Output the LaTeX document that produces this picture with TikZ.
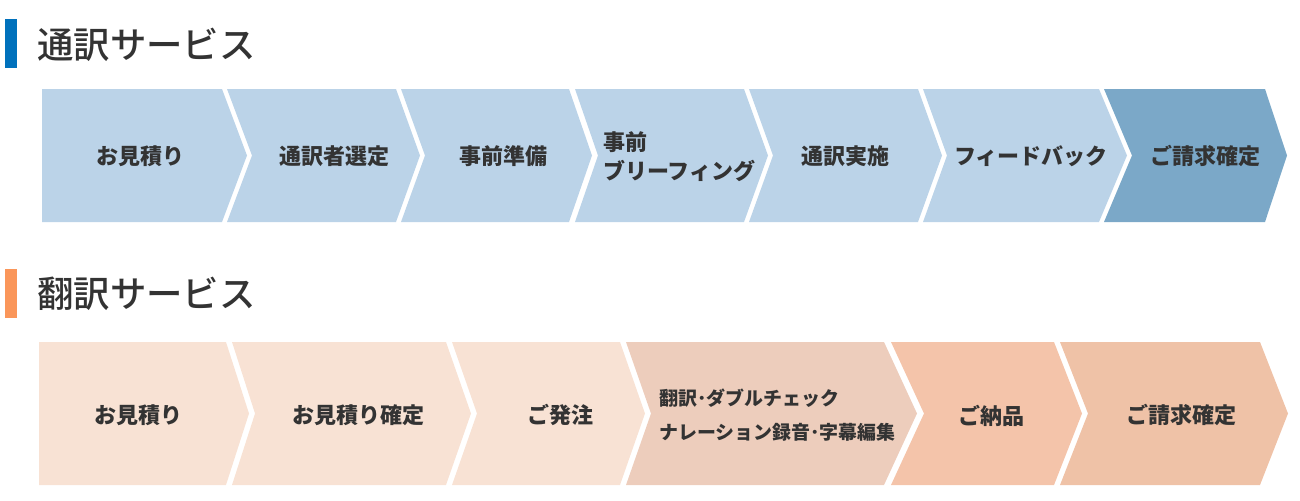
\documentclass[tikz,border=0pt]{standalone}
\usepackage{fontspec}
\usepackage{xcolor}
\usepackage{tikz}
\newfontfamily\jpfont{Noto Sans CJK JP}
\newfontfamily\jpmed{Noto Sans CJK JP Medium}
\definecolor{svcBlue}{RGB}{0,113,188}
\definecolor{svcOrange}{RGB}{250,150,90}
\definecolor{svcBlueLight}{RGB}{187,211,232}
\definecolor{svcBlueDark}{RGB}{123,168,200}
\definecolor{svcPeachLight}{RGB}{248,226,212}
\definecolor{svcPeachMid}{RGB}{237,205,188}
\definecolor{svcPeachDeep}{RGB}{244,196,170}
\definecolor{svcPeachEnd}{RGB}{239,194,167}
\definecolor{svcText}{RGB}{51,51,51}
% colour, left, notch depth, top-right, tip, top, bottom
\newcommand{\flowchev}[7]{%
  \fill[#1] (#2,#6) -- (#4,#6) -- (#5,{(#6+#7)/2}) -- (#4,#7) -- (#2,#7) -- ({#2+#3},{(#6+#7)/2}) -- cycle;}

\begin{document}
\begin{tikzpicture}[
    x=0.75pt, y=-0.75pt,
    heading/.style={anchor=west, inner sep=0pt, font=\jpmed\fontsize{27.3}{30}\selectfont, text=svcText},
    steplabel/.style={inner sep=0pt, font=\jpfont\bfseries\fontsize{16.5}{21.75}\selectfont, text=svcText},
    smalllabel/.style={anchor=west, align=left, inner sep=0pt, font=\jpfont\bfseries\fontsize{14.2}{25.5}\selectfont, text=svcText}
]
\useasboundingbox (0,0) rectangle (1300,500);

% Interpreting
\fill[svcBlue] (5,19) rectangle (17,68);
\node (hd1) [heading] at (37,45) {通訳サービス};

\flowchev{svcBlueLight}{42}{0}{222}{247}{89}{222}
\flowchev{svcBlueLight}{227}{25}{396}{420}{89}{222}
\flowchev{svcBlueLight}{401}{24}{569}{592}{89}{222}
\flowchev{svcBlueLight}{575}{23}{744}{768}{89}{222}
\flowchev{svcBlueLight}{749}{24}{918}{942}{89}{222}
\flowchev{svcBlueLight}{923}{24}{1099}{1127}{89}{222}
\flowchev{svcBlueDark}{1104}{28}{1265}{1287}{89}{222}

\node (i1) [steplabel] at (140,156) {お見積り};
\node (i2) [steplabel] at (334,156) {通訳者選定};
\node (i3) [steplabel] at (503,156) {事前準備};
\node (i4) [steplabel, anchor=west, align=left] at (603,157) {事前\\ブリーフィング};
\node (i5) [steplabel] at (845,156) {通訳実施};
\node (i6) [steplabel] at (1031,156) {フィードバック};
\node (i7) [steplabel] at (1205,156) {ご請求確定};

% Translation
\fill[svcOrange] (5,269) rectangle (17,318);
\node (hd2) [heading] at (37,294) {翻訳サービス};

\flowchev{svcPeachLight}{39}{0}{226}{249}{342}{485}
\flowchev{svcPeachLight}{232}{23}{446}{471}{342}{485}
\flowchev{svcPeachLight}{452}{25}{620}{645}{342}{485}
\flowchev{svcPeachMid}{626}{25}{884}{917}{342}{485}
\flowchev{svcPeachDeep}{891}{33}{1054}{1082}{342}{485}
\flowchev{svcPeachEnd}{1060}{28}{1260}{1288}{342}{485}

\node (t1) [steplabel] at (138,415) {お見積り};
\node (t2) [steplabel] at (358,415) {お見積り確定};
\node (t3) [steplabel] at (560,415) {ご発注};
\node (t4) [smalllabel] at (659,415) {翻訳･ダブルチェック\\ナレーション録音･字幕編集};
\node (t5) [steplabel] at (991,416) {ご納品};
\node (t6) [steplabel] at (1181,415) {ご請求確定};

\end{tikzpicture}
\end{document}
